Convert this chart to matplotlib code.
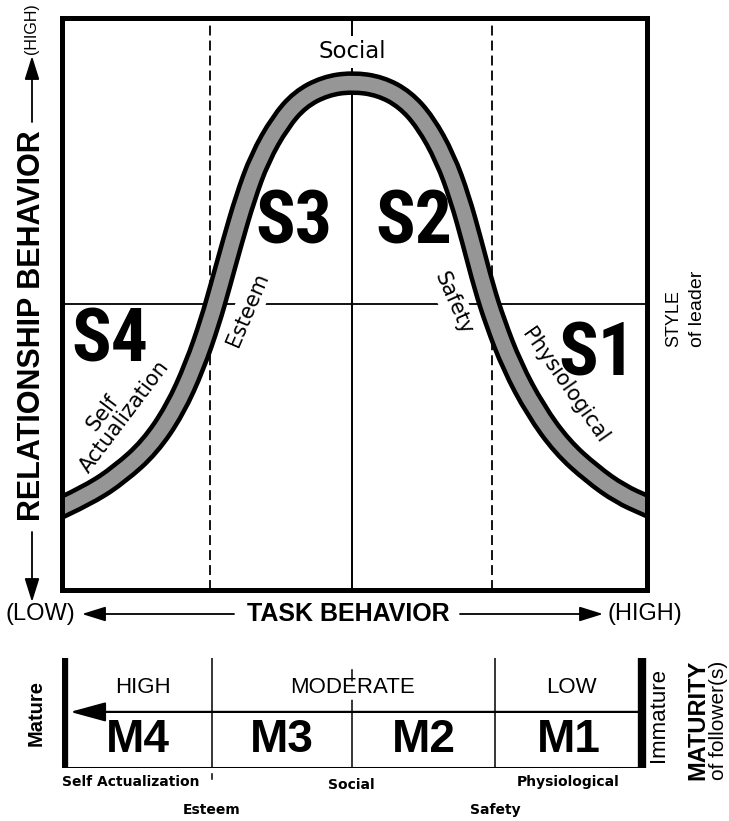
import numpy as np
import matplotlib.pyplot as plt
from matplotlib.path import Path
from matplotlib.patches import PathPatch

# ---- data (task 0-10, relationship 0-10) ----
task = [0.00, 0.48, 0.99, 1.50, 1.93, 2.27, 2.53, 2.70, 2.91, 3.13, 3.38, 3.73, 4.07, 4.50, 4.96,
        5.44, 5.86, 6.21, 6.55, 6.80, 7.01, 7.21, 7.40, 7.69, 8.09, 8.55, 9.06, 9.54, 10.00]
relation = [1.45, 1.68, 2.03, 2.50, 3.15, 3.92, 4.69, 5.30, 6.08, 6.85, 7.55, 8.18, 8.58, 8.81, 8.88,
            8.81, 8.58, 8.18, 7.55, 6.85, 6.08, 5.30, 4.69, 3.92, 3.15, 2.50, 2.03, 1.68, 1.47]

style_labels = ['S4', 'S3', 'S2', 'S1']
curve_needs = ['Self', 'Actualization', 'Esteem', 'Social', 'Safety', 'Physiological']
maturity_levels = ['HIGH', 'MODERATE', 'LOW']
maturity_codes = ['M4', 'M3', 'M2', 'M1']
bottom_needs = ['Self Actualization', 'Esteem', 'Social', 'Safety', 'Physiological']

W, H = 729, 821
fig = plt.figure(figsize=(W / 100, H / 100), dpi=100)


def fx(x):
    return x / W


def fy(y):
    return 1 - y / H


SANS = ['Liberation Sans', 'DejaVu Sans']
GEO = ['DejaVu Sans']
NARROW = ['Roboto Condensed', 'DejaVu Sans Condensed', 'Liberation Sans Narrow', 'Liberation Sans']

# ---- main box ----
ax = fig.add_axes([fx(62), fy(590), (647 - 62) / W, (590 - 18) / H])
ax.set_xlim(0, 10)
ax.set_ylim(0, 10)
ax.set_xticks([])
ax.set_yticks([])
for s in ax.spines.values():
    s.set_linewidth(3.6)
    s.set_zorder(6)

ax.axvline(4.96, color='k', lw=1.4, zorder=1)
ax.axhline(5.0, color='k', lw=1.3, zorder=1)
for xd in (2.53, 7.35):
    ax.axvline(xd, color='k', lw=1.3, ls=(0, (5.5, 2.8)), zorder=1)

# smooth band through the read points
pts = np.column_stack([task, relation])
verts = [pts[0]]
codes = [Path.MOVETO]
for i in range(1, len(pts) - 1):
    verts += [pts[i], (pts[i] + pts[i + 1]) / 2]
    codes += [Path.CURVE3, Path.CURVE3]
verts.append(pts[-1])
codes.append(Path.LINETO)
path = Path(verts, codes)
ax.add_patch(PathPatch(path, fill=False, lw=17, ec='black', capstyle='projecting', zorder=3))
ax.add_patch(PathPatch(path, fill=False, lw=10.5, ec='#969696', capstyle='projecting', zorder=4))

# style labels
style_pos = [(110, 342), (294, 223), (414, 223), (597, 355)]
for lab, (x, y) in zip(style_labels, style_pos):
    fig.text(fx(x), fy(y), lab, family=NARROW, weight='bold', stretch='condensed',
             fontsize=53, ha='center', va='center')

# need labels along the curve
need_pos = [(103, 413, 53), (125, 417, 53), (248, 310, 67), (352, 52, 0),
            (453, 303, -66), (565, 386, -55)]
for lab, (x, y, rot) in zip(curve_needs, need_pos):
    kw = {}
    if lab in ('Esteem', 'Social', 'Safety'):
        kw['bbox'] = dict(fc='white', ec='none', pad=3)
    fig.text(fx(x), fy(y), lab, family=GEO, fontsize=15 if lab != 'Social' else 16.5,
             rotation=rot, rotation_mode='anchor', ha='center', va='center', zorder=5, **kw)

# ---- axis captions ----
fig.text(fx(348), fy(614), 'TASK BEHAVIOR', family=SANS, weight='bold', fontsize=18,
         ha='center', va='center')
fig.text(fx(40), fy(614), '(LOW)', family=SANS, fontsize=17, ha='center', va='center')
fig.text(fx(645), fy(614), '(HIGH)', family=SANS, fontsize=17, ha='center', va='center')
arrow = dict(arrowstyle='-|>,head_length=0.8,head_width=0.25', lw=1.3, color='k',
             mutation_scale=18, shrinkA=0, shrinkB=0)
ax.annotate('', xy=(fx(82), fy(614)), xytext=(fx(234), fy(614)),
            xycoords='figure fraction', textcoords='figure fraction', arrowprops=arrow)
ax.annotate('', xy=(fx(603), fy(614)), xytext=(fx(460), fy(614)),
            xycoords='figure fraction', textcoords='figure fraction', arrowprops=arrow)

fig.text(fx(32), fy(326), 'RELATIONSHIP BEHAVIOR', family=SANS, weight='bold', fontsize=22,
         rotation=90, ha='center', va='center')
fig.text(fx(32), fy(29), '(HIGH)', family=SANS, fontsize=11.5, rotation=90,
         ha='center', va='center')
ax.annotate('', xy=(fx(32), fy(56)), xytext=(fx(32), fy(122)),
            xycoords='figure fraction', textcoords='figure fraction', arrowprops=arrow)
ax.annotate('', xy=(fx(32), fy(602)), xytext=(fx(32), fy(532)),
            xycoords='figure fraction', textcoords='figure fraction', arrowprops=arrow)

fig.text(fx(674), fy(347), 'STYLE', family=SANS, fontsize=13, rotation=90,
         rotation_mode='anchor', ha='left', va='center')
fig.text(fx(697), fy(347), 'of leader', family=SANS, fontsize=14, rotation=90,
         rotation_mode='anchor', ha='left', va='center')

# ---- maturity scale ----
ax2 = fig.add_axes([fx(62), fy(768), (647 - 62) / W, (768 - 658) / H])
ax2.set_xlim(0, 10)
ax2.set_ylim(0, 1)
ax2.axis('off')

bounds = [0.03, 2.56, 4.96, 7.40, 9.91]
ax2.plot([bounds[0]] * 2, [0, 1], color='k', lw=6, solid_capstyle='butt')
ax2.plot([bounds[-1]] * 2, [0, 1], color='k', lw=6, solid_capstyle='butt')
ax2.plot([bounds[0], bounds[-1]], [0, 0], color='k', lw=2.2, solid_capstyle='butt')
for xb in (bounds[1], bounds[3]):
    ax2.plot([xb, xb], [0, 1], color='k', lw=1.1)
ax2.plot([bounds[2]] * 2, [0, 0.51], color='k', lw=1.1)
ax2.plot([bounds[2]] * 2, [0.51, 1], color='k', lw=1.1, ls=(0, (8, 12)))
ax2.plot([bounds[1]] * 2, [-0.05, -0.10], color='k', lw=1.1, clip_on=False)
ax2.annotate('', xy=(0.14, 0.51), xytext=(bounds[-1], 0.51),
             arrowprops=dict(arrowstyle='-|>,head_length=1.1,head_width=0.3', lw=1.6,
                             color='k', mutation_scale=20, shrinkA=0, shrinkB=0))

level_x = [1.38, 4.97, 8.70]
for lab, xl in zip(maturity_levels, level_x):
    ax2.text(xl, 0.73, lab, family=SANS, fontsize=16, ha='center', va='center')
code_x = [(bounds[i] + bounds[i + 1]) / 2 for i in range(4)]
for lab, xc in zip(maturity_codes, code_x):
    ax2.text(xc, 0.25, lab, family=SANS, weight='bold', fontsize=33, ha='center', va='center')

need_x = [1.18, 2.56, 4.94, 7.40, 8.65]
need_y = [-0.13, -0.38, -0.15, -0.38, -0.13]
for lab, xn, yn in zip(bottom_needs, need_x, need_y):
    ax2.text(xn, yn, lab, family=GEO, weight='bold', fontsize=10, ha='center', va='center')

fig.text(fx(36), fy(713), 'Mature', family=SANS, weight='bold', fontsize=14.5, rotation=90,
         ha='center', va='center')
fig.text(fx(659), fy(715), 'Immature', family=SANS, fontsize=16, rotation=90,
         ha='center', va='center')
fig.text(fx(698), fy(780), 'MATURITY', family=SANS, weight='bold', fontsize=17, rotation=90,
         rotation_mode='anchor', ha='left', va='center')
fig.text(fx(718), fy(780), 'of follower(s)', family=SANS, fontsize=15, rotation=90,
         rotation_mode='anchor', ha='left', va='center')

fig.savefig('out.png', dpi=100)
